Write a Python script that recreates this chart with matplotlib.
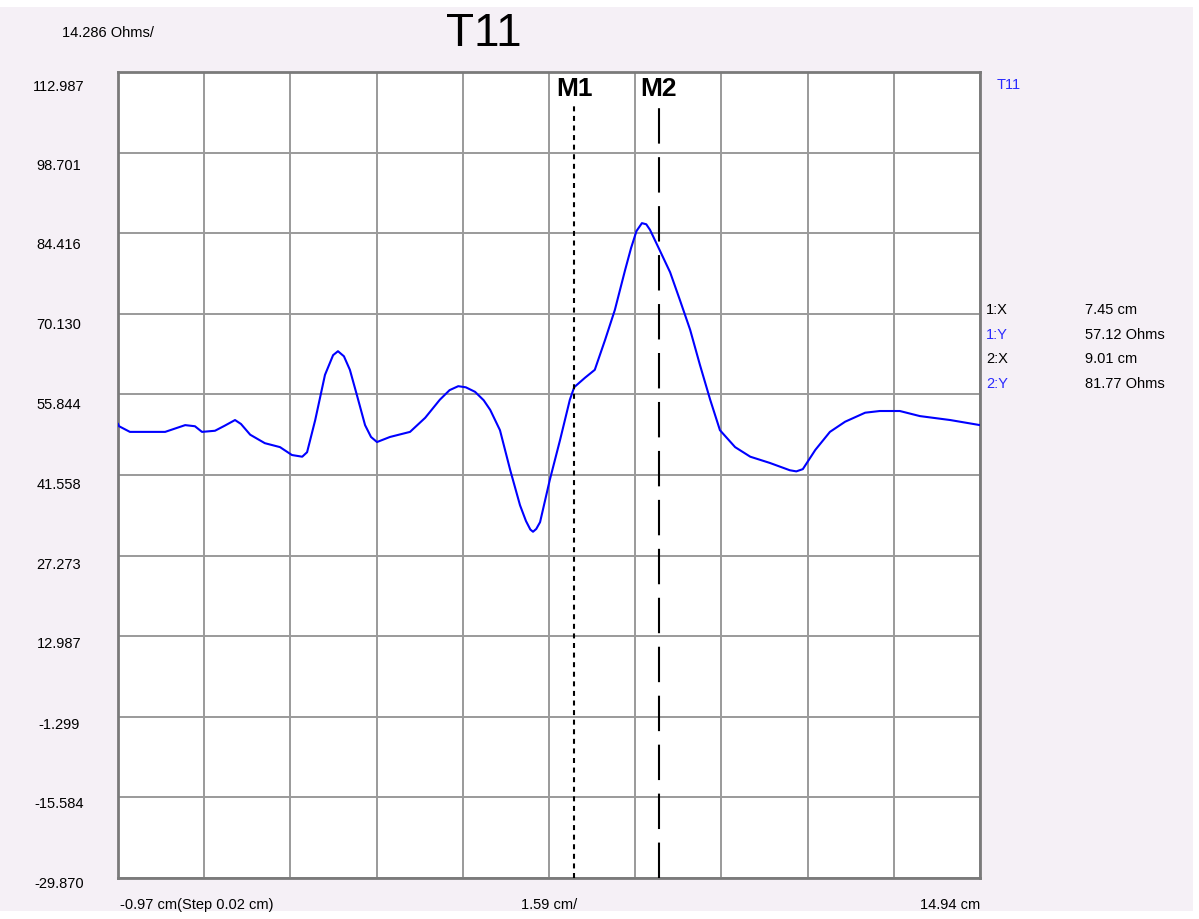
import matplotlib
matplotlib.use("Agg")
import matplotlib.pyplot as plt
import matplotlib.transforms as mtransforms
from matplotlib.patches import Rectangle

plt.rcParams['font.family'] = ['Liberation Sans', 'DejaVu Sans']

# trace (cm, Ohms)
dist_cm = [-0.97, -0.95, -0.75, -0.10, 0.27, 0.45, 0.58, 0.82, 1.00, 1.19,
           1.30, 1.47, 1.74, 2.02, 2.24, 2.43, 2.52, 2.67, 2.85, 3.00,
           3.09, 3.20, 3.31, 3.44, 3.59, 3.70, 3.81, 4.05, 4.42, 4.70,
           4.97, 5.15, 5.31, 5.45, 5.62, 5.78, 5.90, 6.08, 6.27, 6.45,
           6.56, 6.64, 6.69, 6.75, 6.82, 7.00, 7.19, 7.37, 7.45, 7.65,
           7.83, 8.02, 8.20, 8.39, 8.50, 8.60, 8.70, 8.78, 8.85, 9.01,
           9.22, 9.40, 9.59, 9.77, 9.96, 10.14, 10.42, 10.70, 11.06, 11.43,
           11.55, 11.67, 11.90, 12.17, 12.45, 12.82, 13.09, 13.46, 13.83, 14.39,
           14.94]
imp_ohm = [50.6, 50.2, 49.2, 49.2, 50.4, 50.2, 49.2, 49.4, 50.3, 51.3,
           50.6, 48.7, 47.2, 46.5, 45.1, 44.8, 45.6, 51.3, 59.3, 62.8,
           63.5, 62.6, 60.2, 55.7, 50.4, 48.3, 47.4, 48.3, 49.2, 51.7,
           54.9, 56.6, 57.3, 57.1, 56.3, 54.8, 53.1, 49.5, 42.4, 36.2,
           33.4, 31.9, 31.5, 32.0, 33.2, 40.7, 47.8, 54.9, 57.12, 58.8,
           60.2, 65.5, 70.8, 77.9, 81.8, 84.8, 86.2, 86.0, 85.0, 81.77,
           77.5, 72.6, 67.3, 61.1, 54.9, 49.5, 46.5, 44.8, 43.7, 42.4,
           42.2, 42.6, 46.0, 49.2, 51.0, 52.6, 52.9, 52.9, 52.0, 51.3,
           50.4]

y_ticks = [112.987, 98.701, 84.416, 70.130, 55.844, 41.558, 27.273,
           12.987, -1.299, -15.584, -29.870]
label_drop_px = [14, 12, 11, 10, 10, 9, 8, 7, 7, 6, 5]
x_start, x_step, x_stop = -0.97, 1.591, 14.94

markers = ["M1", "M2"]
marker_x = [7.45, 9.01]
marker_y = [57.12, 81.77]

bg = "#f5f0f6"
blue = "#0000ff"
txtblue = "#2a2aff"
fs = 10.5

fig = plt.figure(figsize=(11.99, 9.19), dpi=100, facecolor="white")
fig.patches.append(Rectangle((0, 8 / 919), 1193 / 1199, 904 / 919,
                             transform=fig.transFigure, facecolor=bg,
                             edgecolor="none", zorder=-1))

ax = fig.add_axes([118 / 1199, 1 - 878 / 919, 862 / 1199, 806 / 919])
ax.set_facecolor("white")
ax.set_xlim(x_start, x_stop)
ax.set_ylim(y_ticks[-1], y_ticks[0])
ax.set_xticks([x_start + i * x_step for i in range(11)])
ax.set_yticks(y_ticks)
ax.tick_params(length=0, labelbottom=False, labelleft=False)
ax.grid(True, color="#9a9a9a", lw=1.4)
for s in ax.spines.values():
    s.set_color("#7a7a7a")
    s.set_linewidth(2)

ax.plot(dist_cm, imp_ohm, color=blue, lw=1.5, zorder=3)

# marker lines
ax.axvline(marker_x[0], ymin=0, ymax=0.962, color="black", lw=1.5,
           dashes=(2.4, 2.2), zorder=4)
ax.axvline(marker_x[1], ymin=0, ymax=0.962, color="black", lw=1.5,
           dashes=(17, 6.5), zorder=4)
for name, mx in zip(markers, marker_x):
    ax.text(mx, 0.979, name, transform=ax.get_xaxis_transform(),
            ha="center", va="center", fontsize=19, fontweight="bold",
            color="black", zorder=5)

# y labels on the left
tr = mtransforms.blended_transform_factory(fig.transFigure, ax.transData)
for v, d in zip(y_ticks, label_drop_px):
    off = mtransforms.ScaledTranslation(0, -(d + 1) / 100, fig.dpi_scale_trans)
    fig.text(59 / 1199, v, f"{v:.3f}", transform=tr + off, ha="center",
             va="center", fontsize=fs)

# header texts
fig.text(62 / 1199, 1 - 33 / 919, "14.286 Ohms/", ha="left", va="center",
         fontsize=fs)
fig.text(484 / 1199, 1 - 34 / 919, "T11", ha="center", va="center",
         fontsize=33)

# bottom texts
fig.text(120 / 1199, 1 - 905 / 919, "-0.97 cm(Step 0.02 cm)", ha="left",
         va="center", fontsize=fs)
fig.text(549 / 1199, 1 - 905 / 919, "1.59 cm/", ha="center", va="center",
         fontsize=fs)
fig.text(980 / 1199, 1 - 905 / 919, "14.94 cm", ha="right", va="center",
         fontsize=fs)

# right panel
fig.text(997 / 1199, 1 - 85 / 919, "T11", ha="left", va="center",
         fontsize=fs, color=txtblue)
rows = [("1:X", f"{marker_x[0]:.2f} cm", "black"),
        ("1:Y", f"{marker_y[0]:.2f} Ohms", txtblue),
        ("2:X", f"{marker_x[1]:.2f} cm", "black"),
        ("2:Y", f"{marker_y[1]:.2f} Ohms", txtblue)]
for i, (lab, val, c) in enumerate(rows):
    y = 1 - (310 + i * 24.7) / 919
    fig.text(986 / 1199, y, lab, ha="left", va="center", fontsize=fs,
             color=c)
    fig.text(1085 / 1199, y, val, ha="left", va="center", fontsize=fs,
             color="black")

fig.savefig("out.png", dpi=100, facecolor=fig.get_facecolor())
